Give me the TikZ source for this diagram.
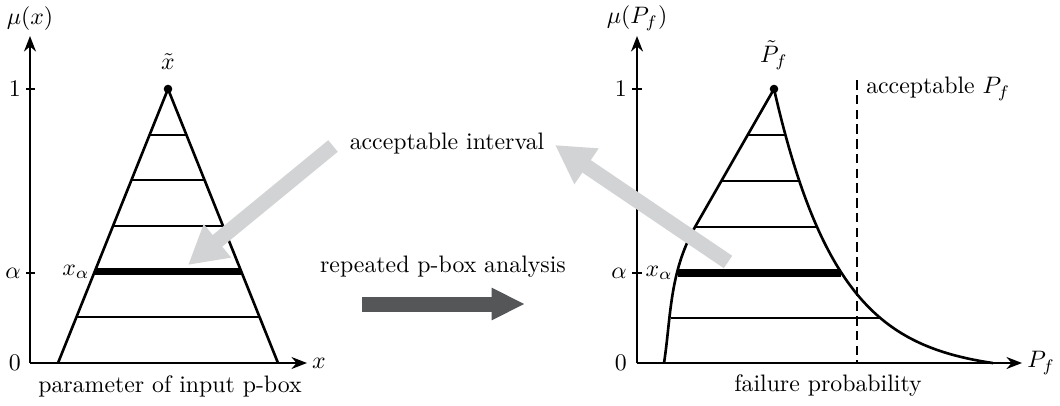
\documentclass[tikz,border=0pt]{standalone}
\usetikzlibrary{arrows.meta,calc}
\definecolor{lightarrow}{RGB}{210,211,212}
\definecolor{darkarrow}{RGB}{85,86,88}
\begin{document}
\begin{tikzpicture}[x=0.42pt,y=-0.42pt,
  axis/.style={line width=1.15pt,-{Stealth[length=6.5pt,width=5pt]}},
  tick/.style={line width=1.15pt},
  edge/.style={line width=1.1pt},
  level/.style={line width=0.9pt},
  alphalevel/.style={line width=3pt},
  hint/.style={lightarrow,line width=6.3pt,-{Triangle[length=16pt,width=17pt]}},
  flow/.style={darkarrow,line width=6.3pt,-{Triangle[length=14pt,width=12.6pt]}},
  lbl/.style={inner sep=2pt},
  limit/.style={line width=1pt,dash pattern=on 4pt off 2.2pt}]
\useasboundingbox (0,0) rectangle (1060,406);

% ---------- left plot ----------
\coordinate (lO) at (30,363);
\coordinate (lYend) at (30,36);
\coordinate (lXend) at (307,363);
\draw[axis] (lO) -- (lYend);
\draw[axis] (lO) -- (lXend);
\node[lbl,above] (lmu) at (lYend) {$\mu(x)$};
\node[lbl,right] (lx) at (lXend) {$x$};
\draw[tick] (26,89) -- (35,89);
\draw[tick] (26,273) -- (35,273);
\node[lbl,left] (l1) at (26,89) {$1$};
\node[lbl,left] (la) at (26,273) {$\alpha$};
\node[lbl,left] (l0) at (26,363) {$0$};

\coordinate (lapex) at (168,89);
\coordinate (lbl0) at (58,363);
\coordinate (lbr0) at (278,363);
\draw[edge] (lbl0) -- (lapex) -- (lbr0);
\foreach \m in {1,3,4,5}{
  \draw[level] ($(lbl0)!\m/6!(lapex)$) -- ($(lbr0)!\m/6!(lapex)$);
}
\draw[alphalevel] ($(lbl0)!2/6!(lapex)$) coordinate (lxa) -- ($(lbr0)!2/6!(lapex)$);
\fill (lapex) circle (1.8pt);
\node[lbl,above=6pt] (lxt) at (lapex) {$\tilde{x}$};
\node[lbl,left] (lxal) at (lxa) {$x_\alpha$};
\node (lcap) at (170,386) {parameter of input p-box};

% ---------- right plot ----------
\coordinate (rO) at (637,363);
\coordinate (rYend) at (637,36);
\coordinate (rXend) at (1022,363);
\draw[axis] (rO) -- (rYend);
\draw[axis] (rO) -- (rXend);
\node[lbl,above] (rmu) at (rYend) {$\mu(P_f)$};
\node[lbl,right] (rx) at (rXend) {$P_f$};
\draw[tick] (632,89) -- (642,89);
\draw[tick] (632,273) -- (642,273);
\node[lbl,left] (r1) at (632,89) {$1$};
\node[lbl,left] (ra) at (632,273) {$\alpha$};
\node[lbl,left] (r0) at (632,363) {$0$};

\coordinate (rapex) at (774,89);
\draw[limit] (857,80) coordinate (dtop) -- (857,363) coordinate (dbot);
\node[lbl,right] (accP) at (861,89) {acceptable $P_f$};

% left boundary of the fuzzy failure probability
\draw[edge] (664,363) .. controls (671,318) and (669,273) .. (695,227) -- (rapex);
% right boundary
\draw[edge,line join=round] plot[domain=0:219,samples=90]
  ({774+\x},{363-274*(exp(-0.0155*\x)-0.0337)/(1-0.0337)});
\draw[level] (747,135) -- (785,135);
\draw[level] (721,181) -- (799,181);
\draw[level] (695,227) -- (817,227);
\draw[level] (671,318) -- (879,318);
\draw[alphalevel] (678,273) coordinate (rxa) -- (841,273);
\fill (rapex) circle (1.8pt);
\node[lbl,above=6pt] (rpt) at (rapex) {$\tilde{P}_f$};
\node[lbl,left] (rxal) at (rxa) {$x_\alpha$};
\node (rcap) at (828,386) {failure probability};

% ---------- middle ----------
\node (acc) at (447,144) {acceptable interval};
\node (rep) at (443,267) {repeated p-box analysis};
\coordinate (h1s) at (333,146);
\coordinate (h1e) at (188,265);
\coordinate (h2s) at (728,262);
\coordinate (h2e) at (555,145);
\draw[hint] (h1s) -- (h1e);
\draw[hint] (h2s) -- (h2e);
\coordinate (fs) at (362,304);
\coordinate (fe) at (525,304);
\draw[flow] (fs) -- (fe);
\end{tikzpicture}
\end{document}
